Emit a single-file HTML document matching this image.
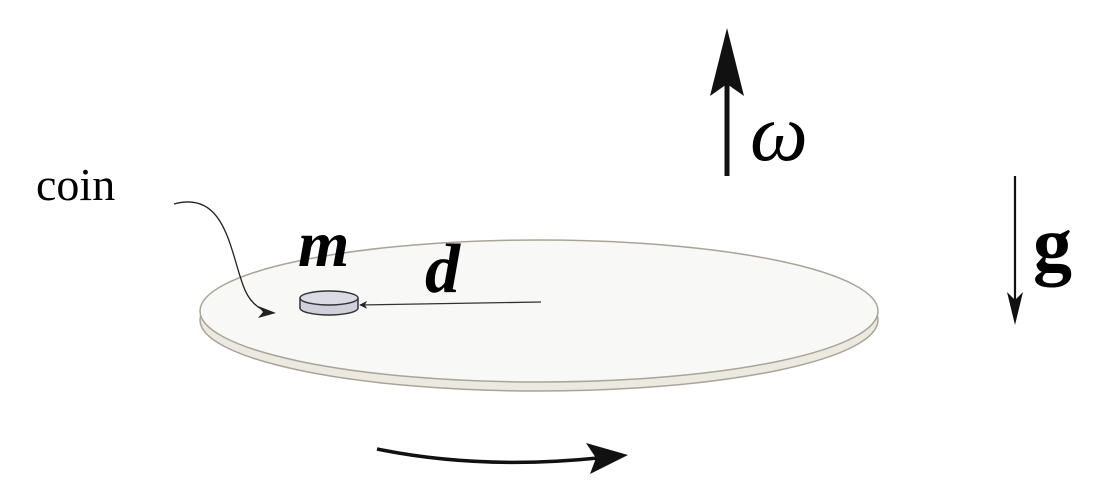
<!DOCTYPE html>
<html><head><meta charset="utf-8"><style>
html,body{margin:0;padding:0;background:#fff;width:1114px;height:504px;overflow:hidden}
</style></head><body>
<svg width="1114" height="504" viewBox="0 0 1114 504">
<defs>
<marker id="ah" viewBox="0 0 10 10" refX="9" refY="5" markerWidth="8" markerHeight="8" orient="auto-start-reverse" markerUnits="userSpaceOnUse"><path d="M0,0 L10,5 L0,10 L3,5 z" fill="#222"/></marker>
</defs>
<g>
<ellipse cx="539" cy="320" rx="339" ry="71" fill="#ece9e1" stroke="#a9a498" stroke-width="1.5"/>
<ellipse cx="539" cy="311" rx="339" ry="71" fill="#f8f8f7" stroke="#a9a498" stroke-width="1.5"/>
</g>
<g>
<path d="M300,298 L300,308 A29,7 0 0 0 358,308 L358,298" fill="#cfd0da" stroke="#333" stroke-width="1.5"/>
<ellipse cx="329" cy="298" rx="29" ry="7" fill="#dadbe4" stroke="#333" stroke-width="1.5"/>
</g>
<line x1="541" y1="302" x2="360" y2="305" stroke="#333" stroke-width="1.3" marker-end="url(#ah)"/>
<text x="298" y="266" font-family="Liberation Serif, serif" font-size="66" font-weight="bold" font-style="italic">m</text>
<text x="425" y="292" font-family="Liberation Serif, serif" font-size="70" font-weight="bold" font-style="italic">d</text>
<text x="36" y="200" font-family="Liberation Serif, serif" font-size="46">coin</text>
<path d="M174,204 C225,190 230,250 243,285 C248,300 258,310 270,312" fill="none" stroke="#222" stroke-width="1.3"/>
<path d="M258,306 L276,313 L258,318 L263,312 z" fill="#222"/>
<g>
<line x1="727" y1="176" x2="727" y2="70" stroke="#111" stroke-width="5"/>
<path d="M727,28 L744,96 L727,84 L710,96 z" fill="#111"/>
</g>
<text x="750" y="160" font-family="Liberation Serif, serif" font-size="82" font-style="italic">ω</text>
<g>
<line x1="1015" y1="176" x2="1015" y2="305" stroke="#111" stroke-width="2.2"/>
<path d="M1015,325 L1023,292 L1015,300 L1007,292 z" fill="#111"/>
</g>
<text x="1033" y="270" font-family="Liberation Serif, serif" font-size="78" font-weight="bold">g</text>
<g>
<path d="M377,449 Q480,470 598,458" fill="none" stroke="#111" stroke-width="3.5"/>
<path d="M628,455 L586,443 L596,458 L590,474 z" fill="#111"/>
</g>
</svg>
</body></html>
